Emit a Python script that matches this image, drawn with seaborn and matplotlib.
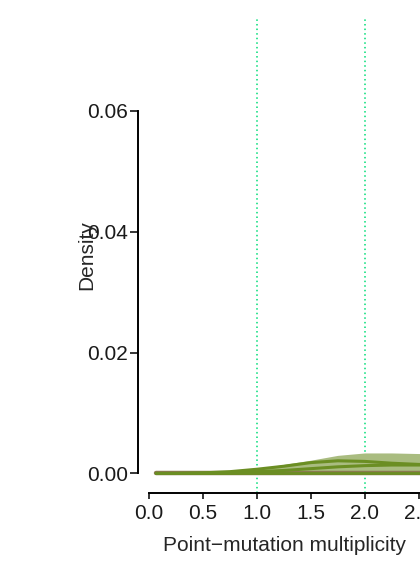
import numpy as np
import pandas as pd
import seaborn as sns
import matplotlib
matplotlib.use("Agg")
import matplotlib.pyplot as plt

sns.set_theme(style="ticks")
plt.rcParams['font.family'] = ['Liberation Sans', 'DejaVu Sans']

# density curves (x = point-mutation multiplicity)
multiplicity = [0.07, 0.25, 0.5, 0.75, 1.0, 1.25, 1.5, 1.75, 2.0, 2.25, 2.5, 2.62]
band_upper = [0.0, 0.00001, 0.0001, 0.0003, 0.0008, 0.0015, 0.0022, 0.0030, 0.0034, 0.0034, 0.0033, 0.0033]
density_a = [0.0, 0.00001, 0.0001, 0.0003, 0.0007, 0.0012, 0.0018, 0.0021, 0.0020, 0.0017, 0.0015, 0.0015]
density_b = [0.0, 0.0, 0.00003, 0.0001, 0.0003, 0.0005, 0.0008, 0.0011, 0.0013, 0.0014, 0.0014, 0.0014]
density_flat = [0.0] * 12
vlines_at = [1.0, 2.0]
yticks = [0.00, 0.02, 0.04, 0.06]
xticks = [0.0, 0.5, 1.0, 1.5, 2.0, 2.5]

df = pd.DataFrame({"x": multiplicity, "upper": band_upper,
                   "a": density_a, "b": density_b, "flat": density_flat})

fig = plt.figure(figsize=(4.2, 5.69), dpi=100)
ax = fig.add_axes([138 / 420, 1 - 493 / 569, 293 / 420, 475 / 569])

for v in vlines_at:
    ax.axvline(v, color="#00dd77", lw=1.1, ls=(0, (1, 2)), zorder=1)

ax.fill_between(df["x"], 0, df["upper"], color="#a9bc80", lw=0, zorder=2)
sns.lineplot(data=df, x="x", y="flat", color="#8a7a50", lw=3.2, ax=ax, zorder=3)
sns.lineplot(data=df, x="x", y="flat", color="#6b8e23", lw=2.0, ax=ax, zorder=3)
sns.lineplot(data=df, x="x", y="b", color="#6b8e23", lw=2.2, ax=ax, zorder=4)
sns.lineplot(data=df, x="x", y="a", color="#6b8e23", lw=2.2, ax=ax, zorder=4)

ax.set_xlim(-0.1, 2.613)
ax.set_ylim(-0.00323, 0.07539)
ax.set_xticks(xticks)
ax.set_yticks(yticks)
ax.set_xticklabels(["%.1f" % t for t in xticks])
ax.set_yticklabels(["%.2f" % t for t in yticks])

for side in ["top", "right"]:
    ax.spines[side].set_visible(False)
ax.spines["left"].set_bounds(0, 0.06)
ax.spines["bottom"].set_bounds(0, 2.613)
for side in ["left", "bottom"]:
    ax.spines[side].set_linewidth(1.4)
    ax.spines[side].set_color("black")
ax.tick_params(axis="both", width=1.1, color="black",
               labelsize=15, labelcolor="#1a1a1a", direction="out")
ax.tick_params(axis="y", length=5.5, pad=1.5)
ax.tick_params(axis="x", length=4, pad=4)

ax.set_ylabel("Density", fontsize=15, va="center")
ax.yaxis.set_label_coords(-0.176, 0.5)
ax.set_xlabel("Point\u2212mutation multiplicity", fontsize=15, va="center")
ax.xaxis.set_label_coords(0.5, -0.11)

fig.savefig("out.png", dpi=100)
